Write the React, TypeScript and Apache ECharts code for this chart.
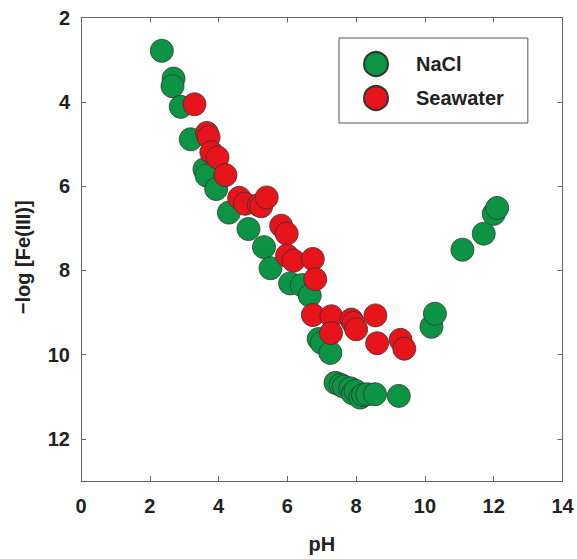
import React, { useEffect, useRef } from "react";
import * as echarts from "echarts";

const seriesNames = ["NaCl", "Seawater"];

const naclData: [number, number][] = [
  [2.35, 2.79], [2.69, 3.45], [2.66, 3.63], [2.90, 4.12], [3.19, 4.89],
  [3.59, 5.60], [3.65, 5.75], [3.93, 6.07], [4.30, 6.63], [4.87, 7.02],
  [5.32, 7.45], [5.51, 7.95], [6.08, 8.31], [6.42, 8.35], [6.65, 8.60],
  [6.91, 9.63], [7.0, 9.72], [7.25, 9.96], [7.40, 10.67], [7.55, 10.72],
  [7.64, 10.76], [7.83, 10.80], [7.90, 10.92], [7.98, 10.86], [8.12, 11.02],
  [8.20, 10.96], [8.32, 10.94], [8.55, 10.94], [9.24, 10.98], [10.19, 9.34],
  [10.29, 9.03], [11.09, 7.51], [11.71, 7.13], [12.0, 6.66], [12.10, 6.52],
];

const seawaterData: [number, number][] = [
  [3.30, 4.06], [3.66, 4.74], [3.71, 4.84], [3.79, 5.20], [3.97, 5.32],
  [4.20, 5.74], [4.60, 6.28], [4.77, 6.42], [5.17, 6.45], [5.24, 6.48],
  [5.40, 6.27], [5.82, 6.94], [5.98, 7.13], [5.99, 7.65], [6.18, 7.77],
  [6.74, 7.73], [6.81, 8.21], [6.74, 9.06], [7.28, 9.09], [7.27, 9.49],
  [7.86, 9.17], [7.92, 9.25], [8.0, 9.40], [8.56, 9.07], [8.61, 9.73],
  [9.29, 9.65], [9.40, 9.86],
];

const xTicks = { min: 0, max: 14, interval: 2 };
const yTicks = { min: 2, max: 13, interval: 2 };

const FONT = "'Liberation Sans', Arial, Helvetica, sans-serif";
const AXIS_COLOR = "#666";

export default function App() {
  const ref = useRef<HTMLDivElement>(null);
  useEffect(() => {
    if (!ref.current) return;
    const chart = echarts.init(ref.current, undefined, { renderer: "svg" });
    const labelStyle = {
      fontFamily: FONT,
      fontWeight: "bold" as const,
      fontSize: 20,
      color: "#222",
    };
    const mkX = (pos: "bottom" | "top", show: boolean) => ({
      type: "value" as const,
      position: pos,
      min: xTicks.min,
      max: xTicks.max,
      interval: xTicks.interval,
      name: show ? "pH" : "",
      nameLocation: "middle" as const,
      nameGap: 53,
      nameTextStyle: labelStyle,
      axisLine: { show: true, onZero: false, lineStyle: { color: AXIS_COLOR, width: 1 } },
      axisTick: { show: true, inside: true, length: 5, lineStyle: { color: AXIS_COLOR } },
      axisLabel: { show, margin: 15, ...labelStyle },
      splitLine: { show: false },
    });
    const mkY = (pos: "left" | "right", show: boolean) => ({
      type: "value" as const,
      position: pos,
      inverse: true,
      min: yTicks.min,
      max: yTicks.max,
      interval: yTicks.interval,
      name: show ? "−log [Fe(III)]" : "",
      nameLocation: "middle" as const,
      nameGap: 48,
      nameTextStyle: { ...labelStyle, padding: [0, 16, 0, 0] },
      axisLine: { show: true, onZero: false, lineStyle: { color: AXIS_COLOR, width: 1 } },
      axisTick: { show: true, inside: true, length: 5, lineStyle: { color: AXIS_COLOR } },
      axisLabel: {
        show,
        margin: 11,
        showMaxLabel: false,
        formatter: (v: number) => (v === 13 ? "" : String(v)),
        ...labelStyle,
      },
      splitLine: { show: false },
    });
    chart.setOption({
      animation: false,
      backgroundColor: "#fff",
      grid: { left: 81, top: 17.5, right: 14.5, bottom: 76.5, containLabel: false },
      xAxis: [mkX("bottom", true), mkX("top", false)],
      yAxis: [mkY("left", true), mkY("right", false)],
      legend: {
        show: true,
        orient: "vertical",
        left: 339,
        top: 38,
        data: seriesNames,
        icon: "circle",
        itemWidth: 24,
        itemHeight: 24,
        itemGap: 8,
        padding: [13, 24, 12, 24],
        borderColor: "#555",
        borderWidth: 1,
        backgroundColor: "#fff",
        textStyle: { ...labelStyle, fontSize: 20, padding: [0, 0, 0, 23] },
      },
      series: [
        {
          name: seriesNames[0],
          type: "scatter",
          xAxisIndex: 0,
          yAxisIndex: 0,
          data: naclData,
          symbol: "circle",
          symbolSize: 23,
          itemStyle: { color: "#0b9444", borderColor: "#333", borderWidth: 0.8, opacity: 1 },
        },
        {
          name: seriesNames[1],
          type: "scatter",
          xAxisIndex: 0,
          yAxisIndex: 0,
          data: seawaterData,
          symbol: "circle",
          symbolSize: 23,
          itemStyle: { color: "#e8141c", borderColor: "#333", borderWidth: 0.8, opacity: 1 },
        },
      ],
    });
    return () => chart.dispose();
  }, []);
  return <div ref={ref} style={{ width: 577, height: 559, position: "absolute", left: 0, top: 0 }} />;
}
